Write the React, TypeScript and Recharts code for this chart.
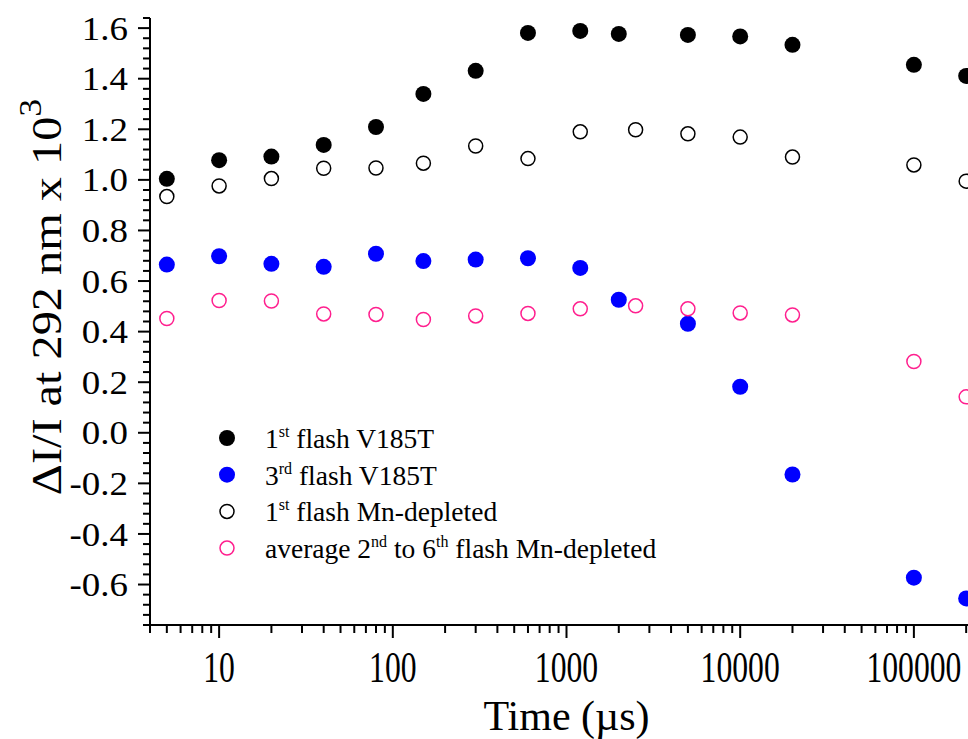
import React from 'react';
import { ScatterChart, Scatter, XAxis, YAxis, Legend } from 'recharts';

// ---- data ----
const timesV185T = [5, 10, 20, 40, 80, 150, 300, 600, 1200, 2000, 5000, 10000, 20000, 100000, 200000];
const flash1V185T = [1.004, 1.078, 1.092, 1.138, 1.209, 1.34, 1.431, 1.581, 1.589, 1.577, 1.573, 1.567, 1.534, 1.455, 1.411];
const flash3V185T = [0.665, 0.698, 0.668, 0.656, 0.708, 0.679, 0.685, 0.69, 0.652, 0.526, 0.431, 0.182, -0.165, -0.573, -0.655];

const timesMn = [5, 10, 20, 40, 80, 150, 300, 600, 1200, 2500, 5000, 10000, 20000, 100000, 200000];
const flash1Mn = [0.934, 0.976, 1.005, 1.046, 1.047, 1.066, 1.134, 1.084, 1.19, 1.198, 1.182, 1.169, 1.09, 1.059, 0.995];
const avgMn = [0.452, 0.523, 0.521, 0.47, 0.468, 0.448, 0.462, 0.472, 0.49, 0.502, 0.49, 0.474, 0.466, 0.282, 0.142];

const xMajorValues = [10, 100, 1000, 10000, 100000];
const xMajorLabels = ['10', '100', '1000', '10000', '100000'];
const yLabelDecimals = 1;

const X_MIN = 4;
const X_MAX = 250000;
const Y_MIN = -0.76;
const Y_MAX = 1.64;

// minor/major tick positions
const xTicks: number[] = [];
for (let e = 0; e <= 5; e++) {
  for (let m = 1; m <= 9; m++) {
    const v = m * Math.pow(10, e);
    if (v >= X_MIN && v <= X_MAX) xTicks.push(v);
  }
}
const yTicks: number[] = [];
for (let i = 0; i <= 60; i++) {
  yTicks.push(Math.round((Y_MIN + i * 0.04) * 100) / 100);
}

const FONT = '"Liberation Serif", "Times New Roman", serif';
const PINK = '#ff1f8e';
const BLUE = '#0000ff';

const mk = (xs: number[], ys: number[]) => xs.map((t, i) => ({ t, v: ys[i] }));
const dataF1 = mk(timesV185T, flash1V185T);
const dataF3 = mk(timesV185T, flash3V185T);
const dataMn1 = mk(timesMn, flash1Mn);
const dataMnAvg = mk(timesMn, avgMn);

const XTick = (props: any) => {
  const { x, y, payload } = props;
  const idx = xMajorValues.indexOf(payload.value);
  const major = idx >= 0;
  return (
    <g>
      <line x1={x} x2={x} y1={y} y2={y + (major ? 13 : 8)} stroke="#000" strokeWidth={2} />
      {major && (
        <text
          transform={`translate(${x},${y + 57}) scale(0.72,1)`}
          textAnchor="middle"
          fontSize={44}
          fontFamily={FONT}
          fill="#000"
        >
          {xMajorLabels[idx]}
        </text>
      )}
    </g>
  );
};

const YTick = (props: any) => {
  const { x, y, payload } = props;
  const v = payload.value as number;
  const major = Math.round(v * 100) % 20 === 0;
  return (
    <g>
      <line x1={x - (major ? 12 : 7)} x2={x} y1={y} y2={y} stroke="#000" strokeWidth={2} />
      {major && (
        <text
          transform={`translate(${x - 22},${y}) scale(1.12,1)`}
          dy="0.35em"
          textAnchor="end"
          fontSize={33}
          fontFamily={FONT}
          fill="#000"
        >
          {v.toFixed(yLabelDecimals)}
        </text>
      )}
    </g>
  );
};

const YTitle = (props: any) => {
  const vb = props.viewBox || { x: 0, y: 18, width: 150, height: 607 };
  const cx = vb.x + 61;
  const cy = 297;
  return (
    <text
      transform={`translate(${cx},${cy}) rotate(-90) scale(1.15,1)`}
      textAnchor="middle"
      fontSize={42}
      fontFamily={FONT}
      fill="#000"
    >
      ΔI/I at 292 nm x 10<tspan dy={-20} fontSize={31}>3</tspan>
    </text>
  );
};

const XTitle = (props: any) => {
  const vb = props.viewBox || { x: 150, y: 625, width: 833, height: 114 };
  return (
    <text x={vb.x + vb.width / 2} y={730} textAnchor="middle" fontSize={42} fontFamily={FONT} fill="#000">
      Time (µs)
    </text>
  );
};

const filled = (color: string) => (p: any) => <circle cx={p.cx} cy={p.cy} r={8} fill={color} />;
const open = (color: string) => (p: any) => (
  <circle cx={p.cx} cy={p.cy} r={7} fill="none" stroke={color} strokeWidth={1.5} />
);

const LegendContent = () => {
  const rows = [
    { kind: 'f', color: '#000', pre: '1', sup: 'st', post: ' flash V185T' },
    { kind: 'f', color: BLUE, pre: '3', sup: 'rd', post: ' flash V185T' },
    { kind: 'o', color: '#000', pre: '1', sup: 'st', post: ' flash Mn-depleted' },
    { kind: 'o', color: PINK, pre: 'average 2', sup: 'nd', post: ' to 6', sup2: 'th', post2: ' flash Mn-depleted' },
  ];
  return (
    <svg width={480} height={160} style={{ display: 'block' }}>
      {rows.map((r, i) => {
        const cy = 28 + i * 36.7;
        return (
          <g key={i}>
            {r.kind === 'f' ? (
              <circle cx={27} cy={cy} r={8} fill={r.color} />
            ) : (
              <circle cx={27} cy={cy} r={7} fill="none" stroke={r.color} strokeWidth={1.5} />
            )}
            <text x={65} y={cy + 10} fontSize={27.5} fontFamily={FONT} fill="#000">
              {r.pre}
              <tspan dy={-11} fontSize={16}>{r.sup}</tspan>
              <tspan dy={11}>{r.post}</tspan>
              {r.sup2 && <tspan dy={-11} fontSize={16}>{r.sup2}</tspan>}
              {r.post2 && <tspan dy={11}>{r.post2}</tspan>}
            </text>
          </g>
        );
      })}
    </svg>
  );
};

export default function App() {
  return (
    <div
      style={{
        position: 'fixed',
        left: 0,
        top: 0,
        width: 968,
        height: 739,
        overflow: 'hidden',
        background: '#fff',
        fontFamily: FONT,
      }}
    >
      <ScatterChart width={1000} height={739} margin={{ top: 18, right: 17, bottom: 0, left: 0 }}>
        <XAxis
          dataKey="t"
          type="number"
          scale="log"
          domain={[X_MIN, X_MAX]}
          allowDataOverflow
          ticks={xTicks}
          interval={0}
          tickSize={0}
          tickMargin={0}
          tickLine={false}
          tick={XTick}
          axisLine={{ stroke: '#000', strokeWidth: 2 }}
          height={114}
          label={<XTitle />}
        />
        <YAxis
          dataKey="v"
          type="number"
          domain={[Y_MIN, Y_MAX]}
          allowDataOverflow
          ticks={yTicks}
          interval={0}
          tickSize={0}
          tickMargin={0}
          tickLine={false}
          tick={YTick}
          axisLine={{ stroke: '#000', strokeWidth: 2 }}
          width={150}
          label={<YTitle />}
        />
        <Legend
          layout="horizontal"
          verticalAlign="middle"
          align="center"
          content={<LegendContent />}
          wrapperStyle={{ position: 'absolute', left: 200, top: 410, width: 480, height: 160 }}
        />
        <Scatter name="1st flash V185T" data={dataF1} shape={filled('#000')} isAnimationActive={false} />
        <Scatter name="3rd flash V185T" data={dataF3} shape={filled(BLUE)} isAnimationActive={false} />
        <Scatter name="1st flash Mn-depleted" data={dataMn1} shape={open('#000')} isAnimationActive={false} />
        <Scatter name="average 2nd to 6th flash Mn-depleted" data={dataMnAvg} shape={open(PINK)} isAnimationActive={false} />
      </ScatterChart>
    </div>
  );
}
